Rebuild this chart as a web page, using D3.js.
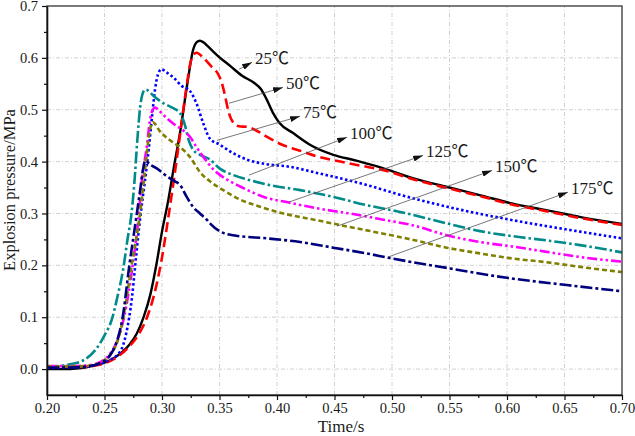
<!DOCTYPE html>
<html>
<head>
<meta charset="utf-8">
<script src="https://cdn.jsdelivr.net/npm/d3@7"></script>
<style>
  body { margin: 0; background: #fff; }
  svg { display: block; }
  text { font-family: "Liberation Serif", "Noto Sans CJK SC", serif; fill: #1a1a1a; }
</style>
</head>
<body>
<div id="chart"></div>
<script>
// time (s) / pressure (MPa)
const curve25 = [[0.200,0.000],[0.215,0.000],[0.225,0.001],[0.235,0.004],[0.245,0.009],[0.255,0.017],[0.265,0.032],[0.272,0.048],[0.278,0.068],[0.284,0.100],[0.290,0.145],[0.295,0.200],[0.300,0.265],[0.305,0.320],[0.310,0.385],[0.316,0.460],[0.322,0.550],[0.327,0.615],[0.330,0.630],[0.333,0.633],[0.336,0.630],[0.340,0.622],[0.348,0.605],[0.359,0.585],[0.370,0.565],[0.380,0.552],[0.386,0.540],[0.391,0.520],[0.397,0.492],[0.402,0.475],[0.414,0.455],[0.429,0.432],[0.449,0.413],[0.469,0.402],[0.490,0.389],[0.518,0.368],[0.548,0.351],[0.577,0.335],[0.605,0.319],[0.635,0.306],[0.664,0.293],[0.700,0.280]];
const curve50 = [[0.200,0.005],[0.215,0.005],[0.230,0.004],[0.240,0.006],[0.250,0.011],[0.260,0.022],[0.270,0.040],[0.280,0.068],[0.287,0.100],[0.295,0.160],[0.300,0.215],[0.305,0.285],[0.310,0.360],[0.315,0.440],[0.3185,0.500],[0.3215,0.547],[0.3245,0.588],[0.327,0.605],[0.330,0.610],[0.336,0.600],[0.343,0.583],[0.349,0.568],[0.352,0.552],[0.355,0.525],[0.358,0.495],[0.362,0.475],[0.367,0.468],[0.374,0.467],[0.382,0.460],[0.391,0.448],[0.405,0.432],[0.420,0.421],[0.435,0.410],[0.455,0.400],[0.478,0.390],[0.490,0.385],[0.518,0.366],[0.548,0.349],[0.577,0.333],[0.605,0.317],[0.635,0.304],[0.664,0.291],[0.700,0.278]];
const curve75 = [[0.200,0.002],[0.220,0.003],[0.235,0.005],[0.246,0.010],[0.255,0.018],[0.261,0.027],[0.266,0.045],[0.269,0.070],[0.2715,0.100],[0.274,0.140],[0.2765,0.195],[0.279,0.250],[0.2815,0.300],[0.285,0.360],[0.2885,0.425],[0.2915,0.490],[0.294,0.540],[0.2965,0.568],[0.2995,0.578],[0.304,0.572],[0.310,0.562],[0.317,0.546],[0.324,0.537],[0.330,0.512],[0.336,0.473],[0.3417,0.444],[0.350,0.433],[0.362,0.416],[0.3765,0.402],[0.391,0.395],[0.411,0.390],[0.437,0.377],[0.449,0.371],[0.478,0.355],[0.507,0.336],[0.548,0.313],[0.605,0.287],[0.6635,0.265],[0.700,0.252]];
const curve100 = [[0.200,0.004],[0.217,0.008],[0.2316,0.017],[0.2432,0.040],[0.250,0.065],[0.257,0.100],[0.2606,0.133],[0.2664,0.195],[0.270,0.250],[0.2735,0.300],[0.276,0.360],[0.2785,0.440],[0.281,0.505],[0.283,0.530],[0.2855,0.539],[0.288,0.537],[0.2925,0.527],[0.301,0.513],[0.308,0.505],[0.3157,0.493],[0.320,0.470],[0.323,0.443],[0.327,0.423],[0.333,0.413],[0.3417,0.404],[0.350,0.387],[0.362,0.374],[0.3765,0.364],[0.391,0.356],[0.420,0.345],[0.449,0.332],[0.478,0.316],[0.507,0.303],[0.5476,0.281],[0.5765,0.266],[0.6055,0.256],[0.6345,0.248],[0.6635,0.239],[0.700,0.225]];
const curve125 = [[0.200,0.006],[0.220,0.006],[0.235,0.007],[0.2475,0.015],[0.255,0.030],[0.262,0.060],[0.267,0.100],[0.2745,0.200],[0.2795,0.290],[0.2823,0.360],[0.2867,0.428],[0.2896,0.480],[0.292,0.500],[0.294,0.504],[0.298,0.497],[0.304,0.484],[0.310,0.473],[0.3185,0.460],[0.3243,0.448],[0.330,0.428],[0.336,0.409],[0.3446,0.385],[0.356,0.366],[0.368,0.352],[0.3794,0.340],[0.391,0.330],[0.4084,0.322],[0.4345,0.310],[0.463,0.300],[0.4925,0.288],[0.5185,0.277],[0.5476,0.258],[0.5765,0.245],[0.6055,0.236],[0.6345,0.226],[0.6635,0.216],[0.700,0.207]];
const curve150 = [[0.200,0.005],[0.220,0.005],[0.235,0.006],[0.2475,0.014],[0.255,0.028],[0.262,0.058],[0.2664,0.100],[0.2736,0.200],[0.2809,0.300],[0.2852,0.383],[0.2881,0.440],[0.2905,0.470],[0.292,0.476],[0.2983,0.458],[0.307,0.441],[0.3157,0.428],[0.3243,0.409],[0.333,0.380],[0.3417,0.362],[0.3533,0.345],[0.3678,0.327],[0.3852,0.313],[0.4055,0.300],[0.4345,0.287],[0.463,0.274],[0.4925,0.261],[0.5185,0.249],[0.5476,0.234],[0.5765,0.223],[0.6055,0.213],[0.6345,0.206],[0.6635,0.197],[0.700,0.187]];
const curve175 = [[0.200,0.003],[0.220,0.003],[0.235,0.005],[0.2475,0.013],[0.255,0.027],[0.261,0.055],[0.2658,0.100],[0.2716,0.200],[0.2775,0.290],[0.281,0.345],[0.2835,0.385],[0.2855,0.402],[0.2896,0.394],[0.2954,0.387],[0.304,0.372],[0.3113,0.362],[0.3157,0.355],[0.3215,0.332],[0.3272,0.312],[0.333,0.300],[0.3389,0.288],[0.3417,0.281],[0.350,0.266],[0.362,0.258],[0.391,0.252],[0.420,0.245],[0.449,0.234],[0.478,0.223],[0.4983,0.214],[0.5504,0.194],[0.5997,0.176],[0.652,0.162],[0.700,0.150]];

const labels = ["25℃", "50℃", "75℃", "100℃", "125℃", "150℃", "175℃"];
const colors = ["#000000", "#ff0000", "#0000ff", "#008b8b", "#ff00ff", "#808000", "#00007f"];
const dashes = ["none", "10,5", "2.5,2.5", "12,3,2.5,3", "10,3,2.5,3,2.5,3", "5,3", "12,3,3,3"];

// arrow callouts: [start t, start p, tip t, tip p]
const callouts = [[0.367,0.578,0.3783,0.5915],[0.3583,0.5125,0.4052,0.543],[0.3478,0.441,0.420,0.4875],[0.3757,0.374,0.4609,0.447],[0.4104,0.322,0.527,0.412],[0.4522,0.2755,0.587,0.383],[0.4965,0.216,0.653,0.341]];

const xTicks = [0.20, 0.25, 0.30, 0.35, 0.40, 0.45, 0.50, 0.55, 0.60, 0.65, 0.70];
const yTicks = [0.0, 0.1, 0.2, 0.3, 0.4, 0.5, 0.6, 0.7];

const width = 635;
const height = 436;
const margin = { top: 6, right: 13, bottom: 41, left: 47 };

const svg = d3.select("#chart").append("svg")
  .attr("width", width)
  .attr("height", height);

const x = d3.scaleLinear().domain([0.2, 0.7]).range([margin.left, width - margin.right]);
const y = d3.scaleLinear().domain([-0.05, 0.7]).range([height - margin.bottom, margin.top]);

// grid
const grid = svg.append("g").attr("stroke", "#c4c4c4").attr("stroke-width", 0.8).attr("stroke-dasharray", "4,2,1,2");
grid.selectAll("line.gx").data(xTicks.slice(1, -1)).enter().append("line")
  .attr("x1", d => x(d)).attr("x2", d => x(d))
  .attr("y1", y.range()[0]).attr("y2", y.range()[1]);
grid.selectAll("line.gy").data(yTicks.slice(0, -1)).enter().append("line")
  .attr("y1", d => y(d)).attr("y2", d => y(d))
  .attr("x1", x.range()[0]).attr("x2", x.range()[1]);

// curves
const curves = [curve25, curve50, curve75, curve100, curve125, curve150, curve175];
const line = d3.line().x(d => x(d[0])).y(d => y(d[1])).curve(d3.curveMonotoneX);

svg.append("g").selectAll("path").data(curves).enter().append("path")
  .attr("d", line)
  .attr("fill", "none")
  .attr("stroke", (d, i) => colors[i])
  .attr("stroke-width", (d, i) => i === 0 ? 2.4 : 2.6)
  .attr("stroke-dasharray", (d, i) => dashes[i]);

// frame
svg.append("rect")
  .attr("x", x.range()[0]).attr("y", y.range()[1])
  .attr("width", x.range()[1] - x.range()[0])
  .attr("height", y.range()[0] - y.range()[1])
  .attr("fill", "none").attr("stroke", "#333").attr("stroke-width", 1.3);

// axes
const xMinor = d3.range(0.225, 0.7, 0.05);
const yMinor = d3.range(0.05, 0.7, 0.1);

svg.append("g").attr("transform", "translate(0," + y.range()[0] + ")")
  .call(d3.axisBottom(x).tickValues(xTicks).tickFormat(d3.format(".2f")).tickSize(5).tickSizeOuter(0).tickPadding(3));
svg.append("g").attr("transform", "translate(0," + y.range()[0] + ")")
  .call(d3.axisBottom(x).tickValues(xMinor).tickFormat("").tickSize(3).tickSizeOuter(0))
  .select(".domain").remove();

svg.append("g").attr("transform", "translate(" + x.range()[0] + ",0)")
  .call(d3.axisLeft(y).tickValues(yTicks).tickFormat(d3.format(".1f")).tickSize(5).tickSizeOuter(0).tickPadding(4));
svg.append("g").attr("transform", "translate(" + x.range()[0] + ",0)")
  .call(d3.axisLeft(y).tickValues(yMinor).tickFormat("").tickSize(3).tickSizeOuter(0))
  .select(".domain").remove();

svg.selectAll(".domain").attr("stroke", "#111").attr("stroke-width", 1.6);
svg.selectAll(".tick line").attr("stroke", "#111").attr("stroke-width", 1.2);
svg.selectAll(".tick text").attr("font-size", 14.5).attr("font-family", "Liberation Serif").attr("fill", "#1a1a1a");

svg.append("text")
  .attr("x", 341).attr("y", 432)
  .attr("text-anchor", "middle")
  .attr("font-size", 17)
  .text("Time/s");

svg.append("text")
  .attr("transform", "translate(15," + 190 + ") rotate(-90)")
  .attr("text-anchor", "middle")
  .attr("font-size", 16.5)
  .text("Explosion pressure/MPa");

// callouts
svg.append("defs").append("marker")
  .attr("id", "arrow")
  .attr("viewBox", "0 0 10 6")
  .attr("refX", 10).attr("refY", 3)
  .attr("markerWidth", 10).attr("markerHeight", 6)
  .attr("markerUnits", "userSpaceOnUse")
  .attr("orient", "auto")
  .append("path").attr("d", "M0,0 L10,3 L0,6 Z").attr("fill", "#111");

const ann = svg.append("g");
ann.selectAll("line").data(callouts).enter().append("line")
  .attr("x1", d => x(d[0])).attr("y1", d => y(d[1]))
  .attr("x2", d => x(d[2])).attr("y2", d => y(d[3]))
  .attr("stroke", "#555").attr("stroke-width", 0.8)
  .attr("marker-end", "url(#arrow)");

ann.selectAll("text").data(callouts).enter().append("text")
  .attr("x", d => x(d[2]) + 3)
  .attr("y", d => y(d[3]) + 2)
  .attr("font-size", 17)
  .text((d, i) => labels[i]);
</script>
</body>
</html>
